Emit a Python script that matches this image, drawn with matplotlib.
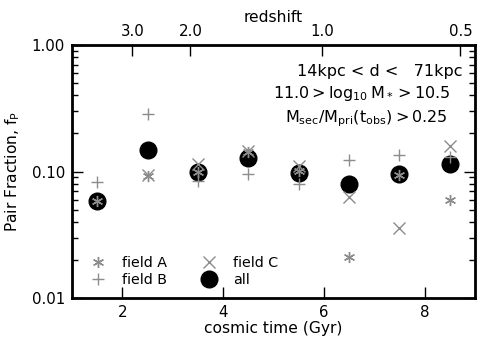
import numpy as np
import matplotlib
matplotlib.use('Agg')
import matplotlib.pyplot as plt

# cosmic time bins (Gyr)
t_bins = [1.5, 2.5, 3.5, 4.5, 5.5, 6.5, 7.5, 8.5]

# pair fractions
field_a = [0.058, 0.092, 0.100, 0.143, 0.101, 0.0212, 0.093, 0.059]
field_b = [0.082, 0.286, 0.084, 0.096, 0.080, 0.124, 0.134, 0.131]
field_c = [np.nan, 0.094, 0.114, 0.145, 0.110, 0.063, 0.0359, 0.158]
all_fields = [0.058, 0.147, 0.100, 0.127, 0.0965, 0.080, 0.0947, 0.1136]

# top axis: redshift labels at their cosmic time
z_labels = ['3.0', '2.0', '1.0', '0.5']
z_times = [2.2, 3.35, 5.96, 8.71]

plt.rcParams['mathtext.default'] = 'regular'
plt.rcParams['font.size'] = 11.2
plt.rcParams['xtick.labelsize'] = 10.8
plt.rcParams['ytick.labelsize'] = 10.8

fig = plt.figure(figsize=(4.85, 3.46), dpi=100)
ax = fig.add_axes([72/485, 48/346, 403/485, 253/346])

grey = '0.55'
ax.plot(t_bins, all_fields, 'o', color='k', ms=12, label='all', zorder=2)
ax.plot(t_bins, field_a, color=grey, ls='none', ms=8, marker=(6, 2, 0), mew=1, label='field A', zorder=3)
ax.plot(t_bins, field_b, '+', color=grey, ms=9, mew=1, label='field B', zorder=3)
ax.plot(t_bins, field_c, 'x', color=grey, ms=9, mew=1, label='field C', zorder=3)

ax.set_yscale('log')
ax.set_xlim(1, 9)
ax.set_ylim(0.01, 1.0)
ax.set_yticks([0.01, 0.1, 1.0])
ax.set_yticklabels(['0.01', '0.10', '1.00'])
ax.set_xticks([2, 4, 6, 8])
ax.set_xlabel('cosmic time (Gyr)', labelpad=1)
ax.set_ylabel('Pair Fraction, $f_P$', labelpad=7)

for s in ax.spines.values():
    s.set_linewidth(2)
ax.tick_params(which='both', direction='in', top=False, right=True)
ax.tick_params(which='major', length=8, width=1, pad=5)
ax.tick_params(which='minor', length=4, width=1)

top = ax.twiny()
top.set_xlim(ax.get_xlim())
top.set_xticks(z_times)
top.set_xticklabels(z_labels)
top.tick_params(direction='in', length=8, width=1, pad=4)
top.set_xlabel('redshift', labelpad=2)

ax.text(0.969, 0.894, '14kpc < d <   71kpc', transform=ax.transAxes, ha='right', va='center', fontsize=11.5)
ax.text(0.94, 0.81, r'$11.0 > \log_{10}M_* > 10.5$', transform=ax.transAxes, ha='right', va='center', fontsize=11.5)
ax.text(0.93, 0.707, r'$M_{sec}/M_{pri}(t_{obs}) > 0.25$', transform=ax.transAxes, ha='right', va='center', fontsize=11.5)

h, l = ax.get_legend_handles_labels()
order = [1, 2, 3, 0]
ax.legend([h[i] for i in order], [l[i] for i in order], loc='lower left', ncol=2,
          frameon=False, numpoints=1, handletextpad=0.7, columnspacing=1.9,
          labelspacing=0.15, borderaxespad=0.4, fontsize=10.3)

fig.savefig('out.png', dpi=100)
